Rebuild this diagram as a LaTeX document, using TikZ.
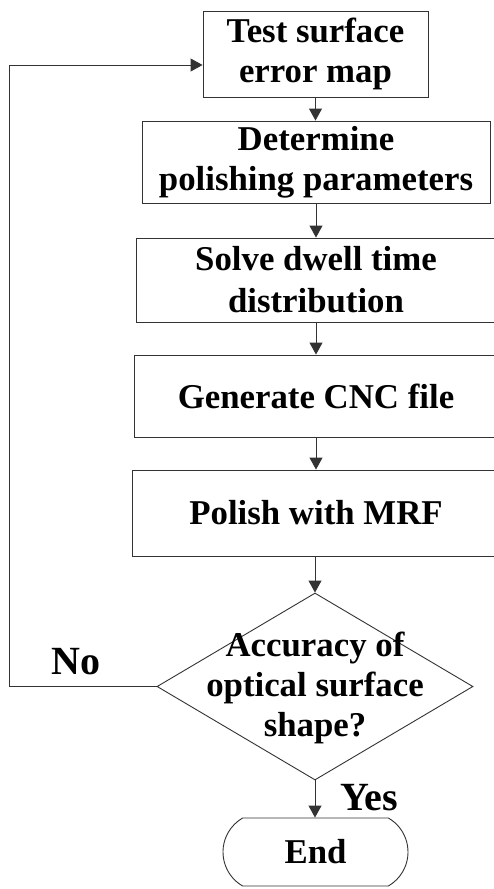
\documentclass[tikz,border=0pt]{standalone}
\usepackage{fontspec}
\setmainfont{Liberation Serif}
\usetikzlibrary{shapes.geometric,shapes.misc,arrows.meta,positioning}
\begin{document}
\begin{tikzpicture}[x=1pt,y=-1pt,
  every node/.style={font=\bfseries\fontsize{34.8}{40}\selectfont, align=center},
  boxnode/.style={draw=black!80, line width=0.9pt, rectangle, inner sep=0pt},
  arr/.style={draw=black!80, line width=0.9pt, -{Triangle[length=12pt,width=13pt]}},
  lbl/.style={inner sep=0pt},
  biglbl/.style={inner sep=0pt, font=\bfseries\fontsize{40}{46}\selectfont}]
\clip (0,0) rectangle (494,889);
\fill[white] (0,0) rectangle (494,889);
\node[boxnode, minimum width=225pt, minimum height=86pt] (b1) at (315.5,54) {Test surface\\error map};
\node[boxnode, minimum width=348pt, minimum height=82pt] (b2) at (316,162) {Determine\\polishing parameters};
\node[boxnode, minimum width=360pt, minimum height=84pt, font=\bfseries\fontsize{34.8}{42}\selectfont] (b3) at (316,280) {Solve dwell time\\distribution};
\node[boxnode, minimum width=364pt, minimum height=82pt] (b4) at (316,396) {Generate CNC file};
\node[boxnode, minimum width=368pt, minimum height=86pt] (b5) at (316,513) {Polish with MRF};
\node[draw=black!80, line width=0.9pt, diamond, minimum width=316pt, minimum height=187pt, inner sep=0pt] (dec) at (315,686.5) {};
\node[lbl] (dect) at (315,688) {Accuracy of\\optical surface\\shape?};
\node[draw=black!80, line width=0.9pt, rounded rectangle, rounded rectangle arc length=120, minimum width=185pt, minimum height=68pt, inner sep=0pt] (end) at (315.5,852) {End};
\node[biglbl] (no) at (76,662) {No};
\node[biglbl] (yes) at (369,798) {Yes};
\draw[arr] (b1.south) -- (b1.south |- b2.north);
\draw[arr] (b2.south) -- (b2.south |- b3.north);
\draw[arr] (b3.south) -- (b3.south |- b4.north);
\draw[arr] (b4.south) -- (b4.south |- b5.north);
\draw[arr] (b5.south -| dec.north) -- (dec.north);
\draw[arr] (dec.south) -- (dec.south |- end.north);
\coordinate (corner) at (9,686.5);
\draw[arr] (dec.west) -- (corner) |- ([yshift=-11pt]b1.west);
\end{tikzpicture}
\end{document}
